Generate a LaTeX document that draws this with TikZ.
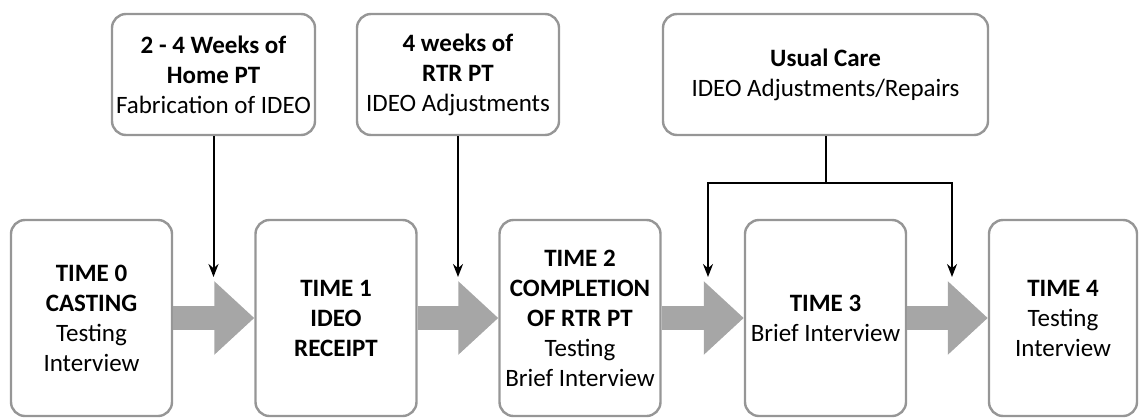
\documentclass[tikz,border=0pt]{standalone}
\usepackage{fontspec}
\setmainfont{Carlito}
\usetikzlibrary{arrows.meta}
\definecolor{edgegray}{RGB}{150,150,150}
\definecolor{flowgray}{RGB}{166,166,166}

\begin{document}
\begin{tikzpicture}[
    x=0.5pt, y=-0.5pt,
    box/.style = {draw=edgegray, line width=1.2pt, rounded corners=7pt, align=center,
                  font=\fontsize{12.5}{15}\selectfont, inner sep=0pt},
    time/.style = {box, minimum width=80.5pt, minimum height=98pt},
    phase/.style = {box, minimum height=60.5pt},
    flow/.style = {draw=flowgray, line width=12pt, -{Triangle[length=20pt, width=35.5pt]}},
    feed/.style = {line width=1pt, -{Stealth[length=6.5pt, width=5pt]}}
  ]
  \useasboundingbox (0,0) rectangle (1140,418);
  % time points
  \node[time] (t0) at (91.5,318) {\textbf{TIME 0}\\\textbf{CASTING}\\Testing\\Interview};
  \node[time] (t1) at (336,318) {\textbf{TIME 1}\\\textbf{IDEO}\\\textbf{RECEIPT}};
  \node[time] (t2) at (580,318) {\textbf{TIME 2}\\\textbf{COMPLETION}\\\textbf{OF RTR PT}\\Testing\\Brief Interview};
  \node[time] (t3) at (825.5,318) {\textbf{TIME 3}\\Brief Interview};
  \node[time, minimum width=74pt] (t4) at (1063,318) {\textbf{TIME 4}\\Testing\\Interview};
  % phases
  \node[phase, minimum width=101.5pt] (home) at (213.5,74.5) {\textbf{2 - 4 Weeks of}\\\textbf{Home PT}\\Fabrication of IDEO};
  \node[phase, minimum width=101pt] (rtr) at (458,74.5) {\textbf{4 weeks of}\\\textbf{RTR PT}\\IDEO Adjustments};
  \node[phase, minimum width=162.5pt] (care) at (825.5,74.5) {\textbf{Usual Care}\\IDEO Adjustments/Repairs};
  % big arrows
  \draw[flow] (t0.east) -- (t1.west);
  \draw[flow] (t1.east) -- (t2.west);
  \draw[flow] (t2.east) -- (t3.west);
  \draw[flow] (t3.east) -- (t4.west);
  % inputs
  \coordinate (in0) at (213.5,277);
  \coordinate (in1) at (458,277);
  \coordinate (in2) at (708,277);
  \coordinate (in3) at (952,277);
  \coordinate (fork) at (825.5,183);
  \draw[feed] (home) -- (in0);
  \draw[feed] (rtr) -- (in1);
  \draw[line width=1pt] (care) -- (fork);
  \draw[feed] (fork) -| (in2);
  \draw[feed] (fork) -| (in3);
\end{tikzpicture}
\end{document}
